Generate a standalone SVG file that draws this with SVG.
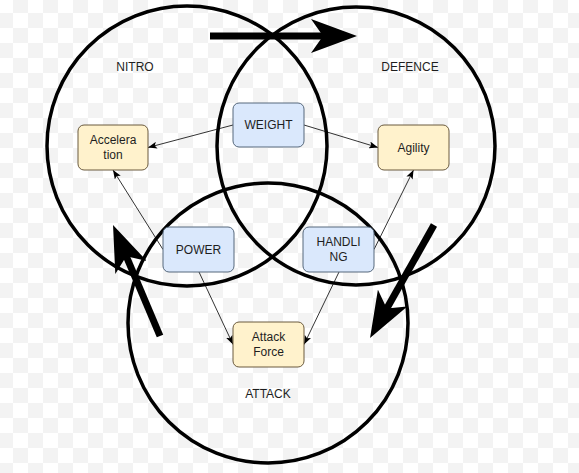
<svg xmlns="http://www.w3.org/2000/svg" width="579" height="473" viewBox="0 0 579 473">
  <defs>
    <pattern id="checker" patternUnits="userSpaceOnUse" x="13" y="13" width="30" height="30">
      <rect width="30" height="30" fill="#ffffff"/>
      <rect x="15" y="0" width="15" height="15" fill="#f3f3f3"/>
      <rect x="0" y="15" width="15" height="15" fill="#f3f3f3"/>
    </pattern>
    <marker id="bigHead" markerUnits="userSpaceOnUse" viewBox="0 0 46 34" markerWidth="46" markerHeight="34" refX="14" refY="17" orient="auto">
      <path d="M0,0 L46,17 L0,34 L12,17 Z" fill="#000"/>
    </marker>
    <marker id="smallHead" markerUnits="userSpaceOnUse" viewBox="0 0 9 7" markerWidth="9" markerHeight="7" refX="9" refY="3.5" orient="auto">
      <path d="M0,0 L9,3.5 L0,7 L2,3.5 Z" fill="#000"/>
    </marker>
  </defs>
  <style>
    .ring { fill: none; stroke: #000; stroke-width: 3.5; }
    .big { stroke: #000; stroke-width: 7; fill: none; marker-end: url(#bigHead); }
    .conn { stroke: #000; stroke-width: 0.8; fill: none; marker-end: url(#smallHead); }
    .blue { fill: #dae8fc; stroke: #56687c; stroke-width: 1; }
    .yellow { fill: #fff2cc; stroke: #6b5b3e; stroke-width: 1; }
    .txt { font-family: "Liberation Sans", Arial, sans-serif; font-size: 12px; fill: #1e1e1e; text-anchor: middle; }
  </style>

  <rect width="579" height="473" fill="url(#checker)"/>

  <g id="circle-nitro">
    <circle class="ring" cx="187" cy="146" r="140"/>
    <text class="txt" x="135" y="71">NITRO</text>
  </g>
  <g id="circle-defence">
    <circle class="ring" cx="356" cy="146" r="139"/>
    <text class="txt" x="410" y="71">DEFENCE</text>
  </g>
  <g id="circle-attack">
    <circle class="ring" cx="268" cy="323" r="140"/>
    <text class="txt" x="268" y="398">ATTACK</text>
  </g>

  <g id="connectors">
    <line class="big" x1="210" y1="36" x2="325" y2="36"/>
    <line class="big" x1="434" y1="225" x2="385.8" y2="310.2"/>
    <line class="big" x1="160" y1="336" x2="125.5" y2="254.5"/>
    <line class="conn" x1="233" y1="125" x2="148" y2="147.5"/>
    <line class="conn" x1="304" y1="125" x2="378" y2="147.5"/>
    <line class="conn" x1="163" y1="249.5" x2="113" y2="170"/>
    <line class="conn" x1="374" y1="249.5" x2="413.5" y2="170"/>
    <line class="conn" x1="199" y1="272" x2="233" y2="344.5"/>
    <line class="conn" x1="339" y1="272" x2="304" y2="344.5"/>
  </g>

  <g id="node-weight">
    <rect class="blue" x="233" y="103" width="71" height="44" rx="6"/>
    <text class="txt" x="268.5" y="129.3">WEIGHT</text>
  </g>
  <g id="node-acceleration">
    <rect class="yellow" x="78" y="125" width="70" height="45" rx="6"/>
    <text class="txt" x="113" y="144.3">Accelera</text>
    <text class="txt" x="113" y="159.3">tion</text>
  </g>
  <g id="node-agility">
    <rect class="yellow" x="378" y="125" width="71" height="45" rx="6"/>
    <text class="txt" x="413.5" y="151.8">Agility</text>
  </g>
  <g id="node-power">
    <rect class="blue" x="163" y="227" width="71" height="45" rx="6"/>
    <text class="txt" x="198.5" y="253.8">POWER</text>
  </g>
  <g id="node-handling">
    <rect class="blue" x="303" y="227" width="71" height="45" rx="6"/>
    <text class="txt" x="338.5" y="246.3">HANDLI</text>
    <text class="txt" x="338.5" y="261.3">NG</text>
  </g>
  <g id="node-attack-force">
    <rect class="yellow" x="233" y="322" width="71" height="45" rx="6"/>
    <text class="txt" x="268.5" y="341.3">Attack</text>
    <text class="txt" x="268.5" y="356.3">Force</text>
  </g>
</svg>
